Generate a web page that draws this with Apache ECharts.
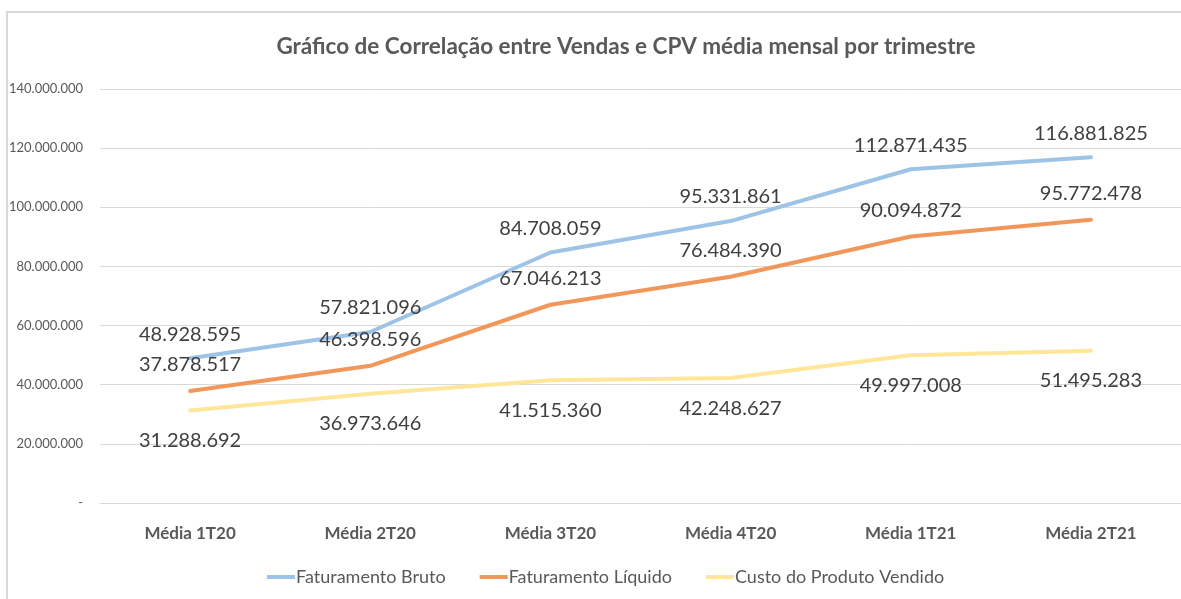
<!DOCTYPE html>
<html>
<head>
<meta charset="utf-8">
<title>Correlação Vendas x CPV</title>
<script src="https://cdn.jsdelivr.net/npm/echarts@6/dist/echarts.min.js"></script>
<style>
  html, body { margin: 0; padding: 0; background: #fff; overflow: hidden; }
  #frame {
    position: absolute; left: 6px; top: 11px; width: 1400px; height: 800px;
    border-top: 2px solid #d9d9d9; border-left: 2px solid #d9d9d9;
  }
  #chart { position: absolute; left: 0; top: 0; width: 1181px; height: 599px; }
</style>
</head>
<body>
<div id="frame"></div>
<div id="chart"></div>
<script>
// dados (média mensal por trimestre)
var trimestres = ["Média 1T20", "Média 2T20", "Média 3T20", "Média 4T20", "Média 1T21", "Média 2T21"];
var faturamentoBruto = [48928595, 57821096, 84708059, 95331861, 112871435, 116881825];
var faturamentoLiquido = [37878517, 46398596, 67046213, 76484390, 90094872, 95772478];
var custoProduto = [31288692, 36973646, 41515360, 42248627, 49997008, 51495283];

var fonte = 'Lato, "Open Sans", sans-serif';

function milhar(v) {
  if (v === 0) return "-";
  return String(Math.round(v)).replace(/\B(?=(\d{3})+(?!\d))/g, ".");
}

function serie(nome, dados, cor, pos, dist) {
  return {
    name: nome,
    type: "line",
    data: dados,
    symbol: "circle",
    symbolSize: 0.1,
    showSymbol: true,
    lineStyle: { color: cor, width: 4, cap: "round" },
    itemStyle: { color: cor },
    label: {
      show: true,
      position: pos,
      distance: dist,
      fontFamily: fonte,
      fontSize: 20,
      color: "#404040",
      formatter: function (p) { return milhar(p.value); }
    }
  };
}

var chart = echarts.init(document.getElementById("chart"));
chart.setOption({
  animation: false,
  title: {
    text: "Gráfico de Correlação entre Vendas e CPV média mensal por trimestre",
    left: 621,
    top: 30,
    textAlign: "center",
    textStyle: { fontFamily: fonte, fontSize: 22.5, fontWeight: "bold", color: "#595959" }
  },
  legend: {
    bottom: 8,
    left: 262,
    itemWidth: 28,
    itemHeight: 4,
    itemGap: 34,
    icon: "rect",
    textStyle: { fontFamily: fonte, fontSize: 18, color: "#595959", padding: [0, 0, 0, -4] },
    data: ["Faturamento Bruto", "Faturamento Líquido", "Custo do Produto Vendido"]
  },
  grid: { left: 100, top: 89, bottom: 96, right: -15 },
  xAxis: {
    type: "category",
    data: trimestres,
    boundaryGap: true,
    axisLine: { lineStyle: { color: "#d9d9d9" } },
    axisTick: { show: false },
    axisLabel: { fontFamily: fonte, fontSize: 17, fontWeight: "bold", color: "#595959", margin: 22 }
  },
  yAxis: {
    type: "value",
    min: 0,
    max: 140000000,
    interval: 20000000,
    axisLine: { show: false },
    axisTick: { show: false },
    splitLine: { lineStyle: { color: "#d9d9d9", width: 1 } },
    axisLabel: { fontFamily: fonte, fontSize: 13, color: "#595959", margin: 17, formatter: milhar }
  },
  series: [
    serie("Faturamento Bruto", faturamentoBruto, "#9DC3E6", "top", 14),
    serie("Faturamento Líquido", faturamentoLiquido, "#F1975A", "top", 16),
    serie("Custo do Produto Vendido", custoProduto, "#FFE699", "bottom", 20)
  ]
});
</script>
</body>
</html>
